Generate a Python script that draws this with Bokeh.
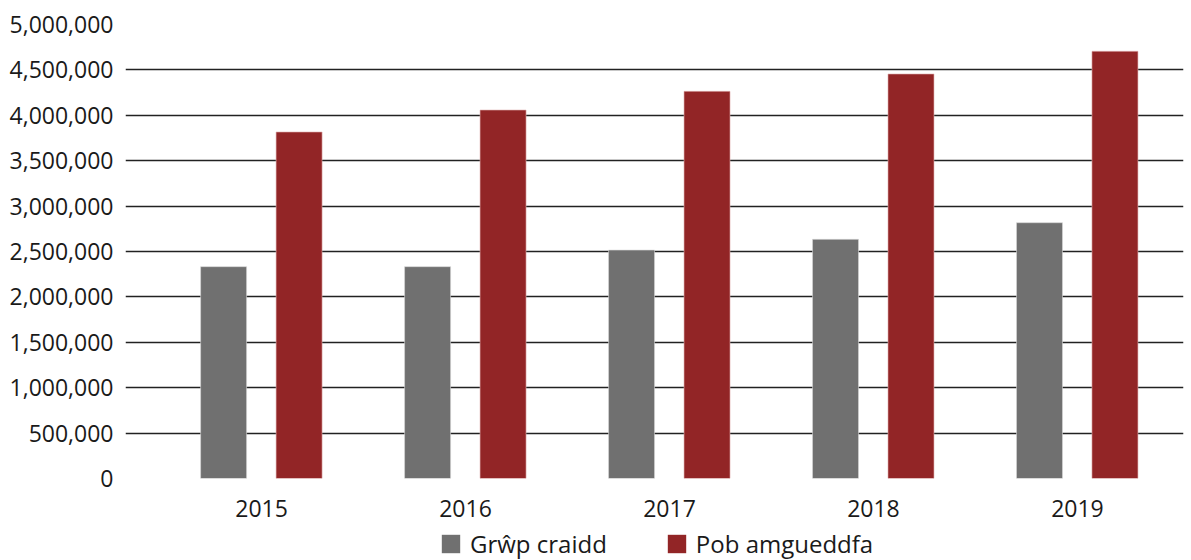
from bokeh.plotting import figure
from bokeh.layouts import column
from bokeh.models import ColumnDataSource, Range1d, FixedTicker, NumeralTickFormatter, Legend, LegendItem
from bokeh.transform import dodge
from bokeh.embed import file_html
from bokeh.resources import INLINE

years = ["2015", "2016", "2017", "2018", "2019"]
grwp_craidd = [2333000, 2333000, 2516000, 2634000, 2817000]
pob_amgueddfa = [3816000, 4058000, 4264000, 4455000, 4705000]
series_names = ["Grŵp craidd", "Pob amgueddfa"]
y_ticks = [0, 500000, 1000000, 1500000, 2000000, 2500000, 3000000, 3500000, 4000000, 4500000, 5000000]

FONT = "Open Sans"
GREY = "#707070"
RED = "#922526"

src = ColumnDataSource(dict(x=list(range(len(years))), a=grwp_craidd, b=pob_amgueddfa))

p = figure(width=1191, height=526, output_backend="svg", toolbar_location=None,
           x_range=Range1d(-0.667, 4.52), y_range=Range1d(0, 5000000),
           min_border_left=125, min_border_right=8, min_border_top=24, min_border_bottom=48)
p.outline_line_color = None
p.background_fill_color = "white"
p.border_fill_color = "white"

bar_kw = dict(width=0.2255, source=src, line_width=0.6)
r1 = p.vbar(x=dodge("x", -0.186, range=p.x_range), top="a",
            fill_color=GREY, line_color="#d8d8d8", **bar_kw)
r2 = p.vbar(x=dodge("x", 0.184, range=p.x_range), top="b",
            fill_color=RED, line_color="#e0b0b0", **bar_kw)

p.xgrid.grid_line_color = None
p.ygrid.grid_line_color = "#222222"
p.ygrid.grid_line_width = 1.3
p.ygrid.ticker = FixedTicker(ticks=y_ticks)

p.yaxis.ticker = FixedTicker(ticks=y_ticks)
p.yaxis.formatter = NumeralTickFormatter(format="0,0")
p.yaxis.axis_line_color = None
p.yaxis.major_tick_line_color = None
p.yaxis.minor_tick_line_color = None
p.yaxis.major_label_standoff = 6
p.yaxis.major_label_text_font = FONT
p.yaxis.major_label_text_font_size = "23px"
p.yaxis.major_label_text_color = "#1a1a1a"

p.xaxis.ticker = FixedTicker(ticks=list(range(len(years))))
p.xaxis.major_label_overrides = {i: y for i, y in enumerate(years)}
p.xaxis.axis_line_color = None
p.xaxis.major_tick_line_color = None
p.xaxis.minor_tick_line_color = None
p.xaxis.major_label_standoff = 15
p.xaxis.major_label_text_font = FONT
p.xaxis.major_label_text_font_size = "23px"
p.xaxis.major_label_text_color = "#1a1a1a"

# Legend strip below the chart: swatch renderers share the series styling,
# their bars lie entirely outside this strip's visible range
lg = figure(width=1191, height=34, output_backend="svg", toolbar_location=None,
            x_range=Range1d(-0.667, 4.52), y_range=Range1d(10000000, 11000000),
            x_axis_type=None, y_axis_type=None,
            min_border_left=0, min_border_right=0, min_border_top=0, min_border_bottom=0)
lg.outline_line_color = None
lg.xgrid.visible = False
lg.ygrid.visible = False
l1 = lg.vbar(x="x", top="a", width=0.2255, source=src, fill_color=GREY, line_color=None)
l2 = lg.vbar(x="x", top="b", width=0.2255, source=src, fill_color=RED, line_color=None)

legend = Legend(items=[LegendItem(label=series_names[0], renderers=[l1]),
                       LegendItem(label=series_names[1], renderers=[l2])],
                orientation="horizontal", location=(314, 0),
                label_text_font=FONT, label_text_font_size="24px", label_text_color="#1a1a1a",
                glyph_width=23, glyph_height=23, label_standoff=8, spacing=58,
                border_line_color=None, background_fill_alpha=0,
                padding=0, margin=0)
lg.add_layout(legend, "center")

open("out.html", "w").write(file_html(column(p, lg, spacing=0), INLINE))
